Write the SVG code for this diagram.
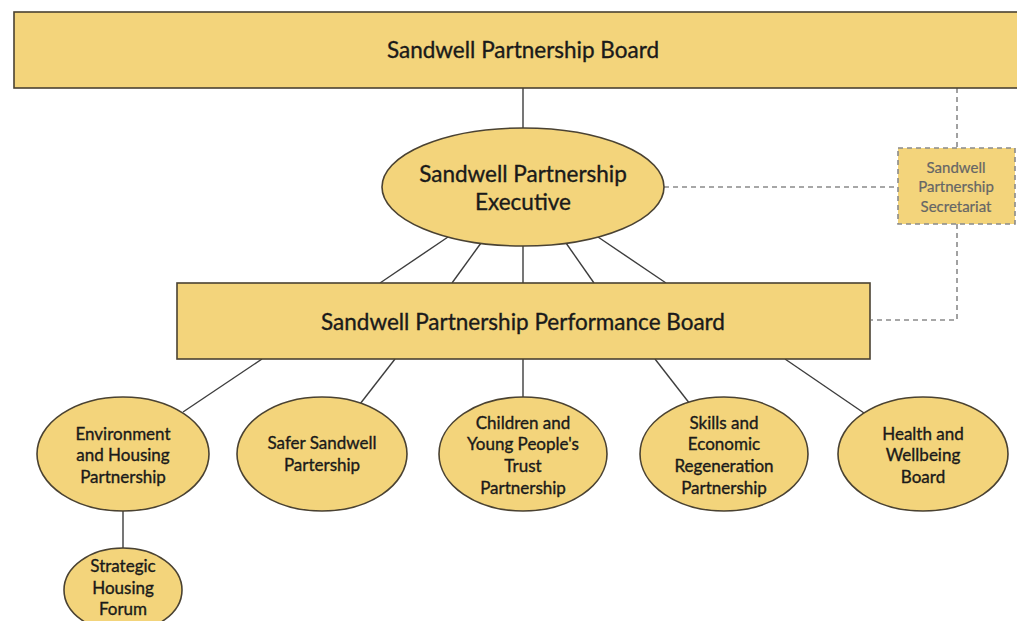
<svg xmlns="http://www.w3.org/2000/svg" width="1017" height="621" viewBox="0 0 1017 621">
  <style>
    .box { fill: #F3D47B; stroke: #4a4232; stroke-width: 1.6; }
    .dbox { fill: #F3D47B; stroke: #8a8a8a; stroke-width: 1.6; stroke-dasharray: 5 4; }
    .link { stroke: #3d3d3d; stroke-width: 1.4; fill: none; }
    .dash { stroke: #8a8a8a; stroke-width: 1.6; stroke-dasharray: 5 4; fill: none; }
    text { font-family: Lato, "Liberation Sans", sans-serif; fill: #1a1a1a; stroke: #1a1a1a; stroke-width: 0.35; text-anchor: middle; }
    .big { font-size: 22.5px; }
    .mid { font-size: 17px; }
    .small { font-size: 15px; fill: #666; stroke: #666; stroke-width: 0.2; }
  </style>
  <rect width="1017" height="621" fill="#ffffff"/>

  <!-- connectors -->
  <g id="connectors">
    <line class="link" x1="523" y1="88" x2="523" y2="129"/>
    <line class="link" x1="448" y1="237" x2="380" y2="283"/>
    <line class="link" x1="481" y1="243" x2="452" y2="283"/>
    <line class="link" x1="523" y1="246" x2="523" y2="283"/>
    <line class="link" x1="566" y1="243" x2="594" y2="283"/>
    <line class="link" x1="598" y1="237" x2="666" y2="283"/>
    <line class="link" x1="262" y1="359" x2="183" y2="412"/>
    <line class="link" x1="395" y1="359" x2="360" y2="404"/>
    <line class="link" x1="523" y1="359" x2="523" y2="397"/>
    <line class="link" x1="655" y1="359" x2="690" y2="404"/>
    <line class="link" x1="785" y1="359" x2="864" y2="413"/>
    <line class="link" x1="123" y1="511" x2="123" y2="548"/>
    <line class="dash" x1="664" y1="187" x2="898" y2="187"/>
    <line class="dash" x1="957" y1="88" x2="957" y2="148"/>
    <polyline class="dash" points="957,224 957,320 871,320"/>
  </g>

  <g id="partnership-board">
    <rect class="box" x="14" y="12" width="1012" height="76"/>
    <text class="big" x="523" y="58">Sandwell Partnership Board</text>
  </g>

  <g id="executive">
    <ellipse class="box" cx="523" cy="187" rx="141" ry="59"/>
    <text class="big" x="523" y="182">Sandwell Partnership</text>
    <text class="big" x="523" y="210">Executive</text>
  </g>

  <g id="secretariat">
    <rect class="dbox" x="898" y="148" width="117" height="76"/>
    <text class="small" x="956" y="173">Sandwell</text>
    <text class="small" x="956" y="192">Partnership</text>
    <text class="small" x="956" y="212">Secretariat</text>
  </g>

  <g id="performance-board">
    <rect class="box" x="177" y="283" width="693" height="76"/>
    <text class="big" x="523" y="330">Sandwell Partnership Performance Board</text>
  </g>

  <g id="environment-housing">
    <ellipse class="box" cx="123" cy="454" rx="86" ry="57"/>
    <text class="mid" x="123" y="440">Environment</text>
    <text class="mid" x="123" y="461">and Housing</text>
    <text class="mid" x="123" y="483">Partnership</text>
  </g>

  <g id="safer-sandwell">
    <ellipse class="box" cx="322" cy="454" rx="85" ry="57"/>
    <text class="mid" x="322" y="449">Safer Sandwell</text>
    <text class="mid" x="322" y="471">Partership</text>
  </g>

  <g id="children-young-people">
    <ellipse class="box" cx="523" cy="454" rx="84" ry="57"/>
    <text class="mid" x="523" y="429">Children and</text>
    <text class="mid" x="523" y="450">Young People's</text>
    <text class="mid" x="523" y="472">Trust</text>
    <text class="mid" x="523" y="494">Partnership</text>
  </g>

  <g id="skills-economic">
    <ellipse class="box" cx="724" cy="454" rx="84" ry="57"/>
    <text class="mid" x="724" y="429">Skills and</text>
    <text class="mid" x="724" y="450">Economic</text>
    <text class="mid" x="724" y="472">Regeneration</text>
    <text class="mid" x="724" y="494">Partnership</text>
  </g>

  <g id="health-wellbeing">
    <ellipse class="box" cx="923" cy="454" rx="85" ry="57"/>
    <text class="mid" x="923" y="440">Health and</text>
    <text class="mid" x="923" y="461">Wellbeing</text>
    <text class="mid" x="923" y="483">Board</text>
  </g>

  <g id="strategic-housing">
    <ellipse class="box" cx="123" cy="590" rx="59" ry="42"/>
    <text class="mid" x="123" y="572">Strategic</text>
    <text class="mid" x="123" y="594">Housing</text>
    <text class="mid" x="123" y="615">Forum</text>
  </g>
</svg>
